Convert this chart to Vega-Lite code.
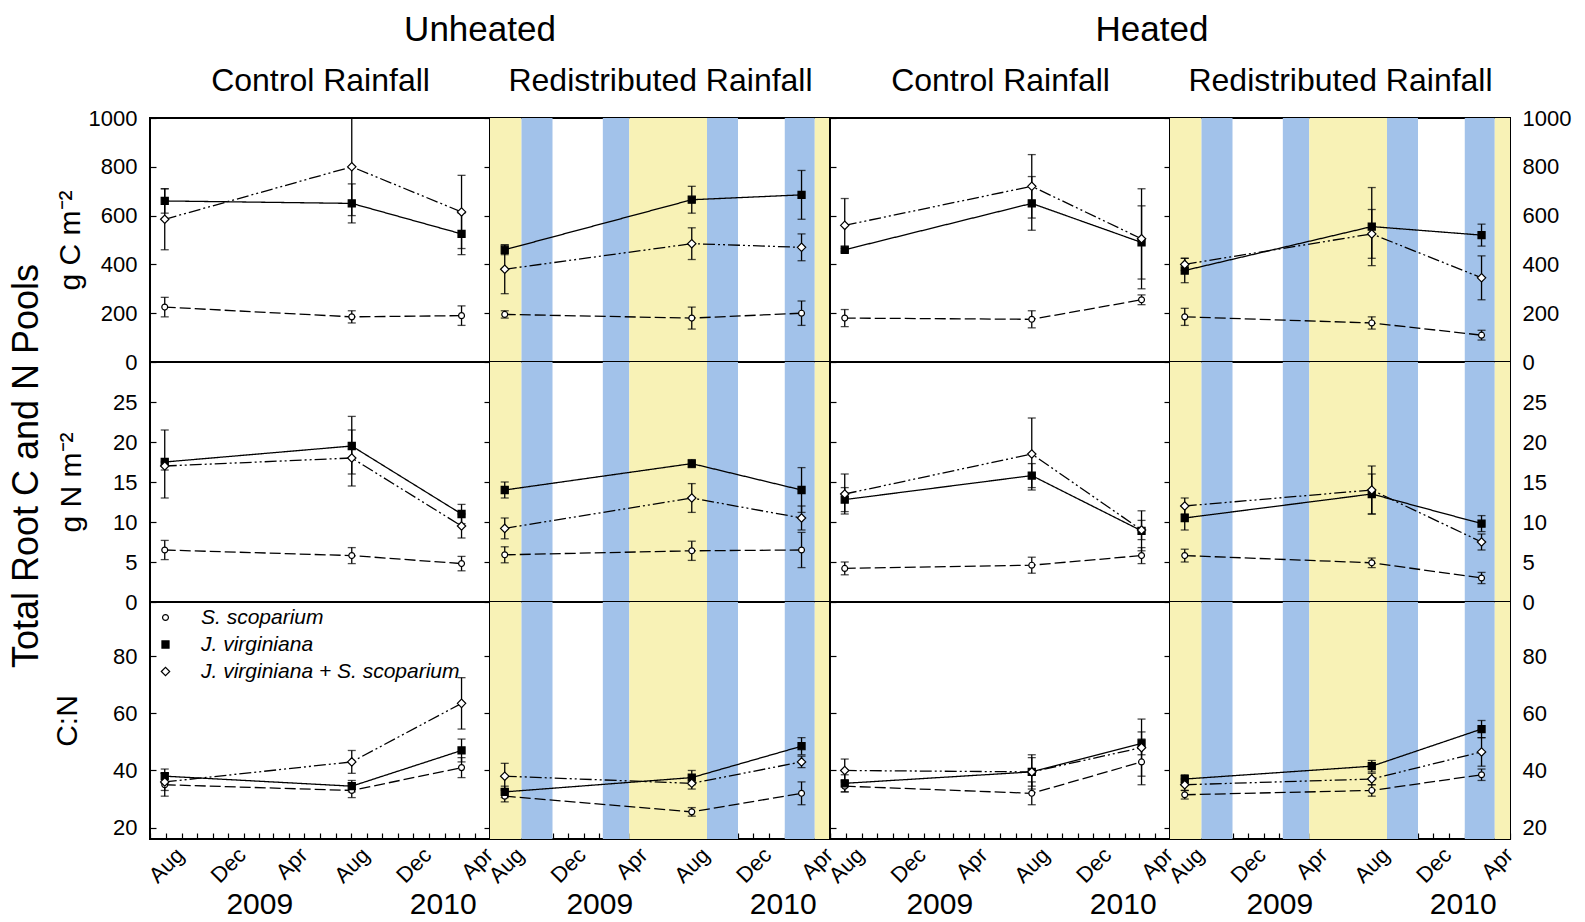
{
"$schema": "https://vega.github.io/schema/vega-lite/v6.json",
"background": "white",
"padding": {"left": 8, "top": 12, "right": 5, "bottom": 2},
"datasets": {
"roots": [
{"pool":"C","heat":"Unheated","rain":"Control","species":"S. scoparium","date":"2008-07-30","mean":225,"lo":185,"hi":265},
{"pool":"C","heat":"Unheated","rain":"Control","species":"S. scoparium","date":"2009-08-02","mean":185,"lo":160,"hi":210},
{"pool":"C","heat":"Unheated","rain":"Control","species":"S. scoparium","date":"2010-03-06","mean":190,"lo":150,"hi":230},
{"pool":"C","heat":"Unheated","rain":"Control","species":"J. virginiana","date":"2008-07-30","mean":660,"lo":610,"hi":710},
{"pool":"C","heat":"Unheated","rain":"Control","species":"J. virginiana","date":"2009-08-02","mean":650,"lo":570,"hi":730},
{"pool":"C","heat":"Unheated","rain":"Control","species":"J. virginiana","date":"2010-03-06","mean":525,"lo":440,"hi":610},
{"pool":"C","heat":"Unheated","rain":"Control","species":"J. virginiana + S. scoparium","date":"2008-07-30","mean":585,"lo":460,"hi":710},
{"pool":"C","heat":"Unheated","rain":"Control","species":"J. virginiana + S. scoparium","date":"2009-08-02","mean":800,"lo":600,"hi":1000},
{"pool":"C","heat":"Unheated","rain":"Control","species":"J. virginiana + S. scoparium","date":"2010-03-06","mean":615,"lo":465,"hi":765},
{"pool":"C","heat":"Unheated","rain":"Redistributed","species":"S. scoparium","date":"2008-07-30","mean":195,"lo":180,"hi":210},
{"pool":"C","heat":"Unheated","rain":"Redistributed","species":"S. scoparium","date":"2009-08-02","mean":180,"lo":135,"hi":225},
{"pool":"C","heat":"Unheated","rain":"Redistributed","species":"S. scoparium","date":"2010-03-06","mean":200,"lo":150,"hi":250},
{"pool":"C","heat":"Unheated","rain":"Redistributed","species":"J. virginiana","date":"2008-07-30","mean":460,"lo":440,"hi":480},
{"pool":"C","heat":"Unheated","rain":"Redistributed","species":"J. virginiana","date":"2009-08-02","mean":665,"lo":610,"hi":720},
{"pool":"C","heat":"Unheated","rain":"Redistributed","species":"J. virginiana","date":"2010-03-06","mean":685,"lo":585,"hi":785},
{"pool":"C","heat":"Unheated","rain":"Redistributed","species":"J. virginiana + S. scoparium","date":"2008-07-30","mean":380,"lo":280,"hi":480},
{"pool":"C","heat":"Unheated","rain":"Redistributed","species":"J. virginiana + S. scoparium","date":"2009-08-02","mean":485,"lo":420,"hi":550},
{"pool":"C","heat":"Unheated","rain":"Redistributed","species":"J. virginiana + S. scoparium","date":"2010-03-06","mean":470,"lo":415,"hi":525},
{"pool":"C","heat":"Heated","rain":"Control","species":"S. scoparium","date":"2008-07-30","mean":180,"lo":145,"hi":215},
{"pool":"C","heat":"Heated","rain":"Control","species":"S. scoparium","date":"2009-08-02","mean":175,"lo":140,"hi":210},
{"pool":"C","heat":"Heated","rain":"Control","species":"S. scoparium","date":"2010-03-06","mean":255,"lo":235,"hi":275},
{"pool":"C","heat":"Heated","rain":"Control","species":"J. virginiana","date":"2008-07-30","mean":460,"lo":455,"hi":465},
{"pool":"C","heat":"Heated","rain":"Control","species":"J. virginiana","date":"2009-08-02","mean":650,"lo":540,"hi":760},
{"pool":"C","heat":"Heated","rain":"Control","species":"J. virginiana","date":"2010-03-06","mean":490,"lo":340,"hi":640},
{"pool":"C","heat":"Heated","rain":"Control","species":"J. virginiana + S. scoparium","date":"2008-07-30","mean":560,"lo":450,"hi":670},
{"pool":"C","heat":"Heated","rain":"Control","species":"J. virginiana + S. scoparium","date":"2009-08-02","mean":720,"lo":590,"hi":850},
{"pool":"C","heat":"Heated","rain":"Control","species":"J. virginiana + S. scoparium","date":"2010-03-06","mean":505,"lo":300,"hi":710},
{"pool":"C","heat":"Heated","rain":"Redistributed","species":"S. scoparium","date":"2008-07-30","mean":185,"lo":150,"hi":220},
{"pool":"C","heat":"Heated","rain":"Redistributed","species":"S. scoparium","date":"2009-08-02","mean":160,"lo":135,"hi":185},
{"pool":"C","heat":"Heated","rain":"Redistributed","species":"S. scoparium","date":"2010-03-06","mean":110,"lo":90,"hi":130},
{"pool":"C","heat":"Heated","rain":"Redistributed","species":"J. virginiana","date":"2008-07-30","mean":375,"lo":325,"hi":425},
{"pool":"C","heat":"Heated","rain":"Redistributed","species":"J. virginiana","date":"2009-08-02","mean":555,"lo":395,"hi":715},
{"pool":"C","heat":"Heated","rain":"Redistributed","species":"J. virginiana","date":"2010-03-06","mean":520,"lo":475,"hi":565},
{"pool":"C","heat":"Heated","rain":"Redistributed","species":"J. virginiana + S. scoparium","date":"2008-07-30","mean":400,"lo":375,"hi":425},
{"pool":"C","heat":"Heated","rain":"Redistributed","species":"J. virginiana + S. scoparium","date":"2009-08-02","mean":525,"lo":425,"hi":625},
{"pool":"C","heat":"Heated","rain":"Redistributed","species":"J. virginiana + S. scoparium","date":"2010-03-06","mean":345,"lo":255,"hi":435},
{"pool":"N","heat":"Unheated","rain":"Control","species":"S. scoparium","date":"2008-07-30","mean":6.5,"lo":5.3,"hi":7.7},
{"pool":"N","heat":"Unheated","rain":"Control","species":"S. scoparium","date":"2009-08-02","mean":5.8,"lo":4.8,"hi":6.8},
{"pool":"N","heat":"Unheated","rain":"Control","species":"S. scoparium","date":"2010-03-06","mean":4.8,"lo":3.9,"hi":5.7},
{"pool":"N","heat":"Unheated","rain":"Control","species":"J. virginiana","date":"2008-07-30","mean":17.5,"lo":13,"hi":21.5},
{"pool":"N","heat":"Unheated","rain":"Control","species":"J. virginiana","date":"2009-08-02","mean":19.5,"lo":16,"hi":23.2},
{"pool":"N","heat":"Unheated","rain":"Control","species":"J. virginiana","date":"2010-03-06","mean":11,"lo":9.8,"hi":12.2},
{"pool":"N","heat":"Unheated","rain":"Control","species":"J. virginiana + S. scoparium","date":"2008-07-30","mean":17,"lo":16.5,"hi":17.5},
{"pool":"N","heat":"Unheated","rain":"Control","species":"J. virginiana + S. scoparium","date":"2009-08-02","mean":18,"lo":14.5,"hi":21.5},
{"pool":"N","heat":"Unheated","rain":"Control","species":"J. virginiana + S. scoparium","date":"2010-03-06","mean":9.5,"lo":8,"hi":11},
{"pool":"N","heat":"Unheated","rain":"Redistributed","species":"S. scoparium","date":"2008-07-30","mean":5.9,"lo":4.9,"hi":6.9},
{"pool":"N","heat":"Unheated","rain":"Redistributed","species":"S. scoparium","date":"2009-08-02","mean":6.4,"lo":5.2,"hi":7.6},
{"pool":"N","heat":"Unheated","rain":"Redistributed","species":"S. scoparium","date":"2010-03-06","mean":6.5,"lo":4.3,"hi":8.7},
{"pool":"N","heat":"Unheated","rain":"Redistributed","species":"J. virginiana","date":"2008-07-30","mean":14,"lo":13,"hi":15},
{"pool":"N","heat":"Unheated","rain":"Redistributed","species":"J. virginiana","date":"2009-08-02","mean":17.3,"lo":16.8,"hi":17.8},
{"pool":"N","heat":"Unheated","rain":"Redistributed","species":"J. virginiana","date":"2010-03-06","mean":14,"lo":11.2,"hi":16.8},
{"pool":"N","heat":"Unheated","rain":"Redistributed","species":"J. virginiana + S. scoparium","date":"2008-07-30","mean":9.2,"lo":7.9,"hi":10.5},
{"pool":"N","heat":"Unheated","rain":"Redistributed","species":"J. virginiana + S. scoparium","date":"2009-08-02","mean":13,"lo":11.2,"hi":14.8},
{"pool":"N","heat":"Unheated","rain":"Redistributed","species":"J. virginiana + S. scoparium","date":"2010-03-06","mean":10.5,"lo":9,"hi":12},
{"pool":"N","heat":"Heated","rain":"Control","species":"S. scoparium","date":"2008-07-30","mean":4.2,"lo":3.4,"hi":5},
{"pool":"N","heat":"Heated","rain":"Control","species":"S. scoparium","date":"2009-08-02","mean":4.6,"lo":3.6,"hi":5.6},
{"pool":"N","heat":"Heated","rain":"Control","species":"S. scoparium","date":"2010-03-06","mean":5.8,"lo":4.8,"hi":6.8},
{"pool":"N","heat":"Heated","rain":"Control","species":"J. virginiana","date":"2008-07-30","mean":12.8,"lo":11.3,"hi":14.3},
{"pool":"N","heat":"Heated","rain":"Control","species":"J. virginiana","date":"2009-08-02","mean":15.8,"lo":14.3,"hi":17.3},
{"pool":"N","heat":"Heated","rain":"Control","species":"J. virginiana","date":"2010-03-06","mean":8.9,"lo":6.4,"hi":11.4},
{"pool":"N","heat":"Heated","rain":"Control","species":"J. virginiana + S. scoparium","date":"2008-07-30","mean":13.5,"lo":11,"hi":16},
{"pool":"N","heat":"Heated","rain":"Control","species":"J. virginiana + S. scoparium","date":"2009-08-02","mean":18.5,"lo":14,"hi":23},
{"pool":"N","heat":"Heated","rain":"Control","species":"J. virginiana + S. scoparium","date":"2010-03-06","mean":9,"lo":7.8,"hi":10.2},
{"pool":"N","heat":"Heated","rain":"Redistributed","species":"S. scoparium","date":"2008-07-30","mean":5.8,"lo":5,"hi":6.6},
{"pool":"N","heat":"Heated","rain":"Redistributed","species":"S. scoparium","date":"2009-08-02","mean":4.9,"lo":4.3,"hi":5.5},
{"pool":"N","heat":"Heated","rain":"Redistributed","species":"S. scoparium","date":"2010-03-06","mean":3,"lo":2.3,"hi":3.7},
{"pool":"N","heat":"Heated","rain":"Redistributed","species":"J. virginiana","date":"2008-07-30","mean":10.5,"lo":9,"hi":12},
{"pool":"N","heat":"Heated","rain":"Redistributed","species":"J. virginiana","date":"2009-08-02","mean":13.5,"lo":11,"hi":16},
{"pool":"N","heat":"Heated","rain":"Redistributed","species":"J. virginiana","date":"2010-03-06","mean":9.8,"lo":8.8,"hi":10.8},
{"pool":"N","heat":"Heated","rain":"Redistributed","species":"J. virginiana + S. scoparium","date":"2008-07-30","mean":12,"lo":11,"hi":13},
{"pool":"N","heat":"Heated","rain":"Redistributed","species":"J. virginiana + S. scoparium","date":"2009-08-02","mean":14,"lo":11,"hi":17},
{"pool":"N","heat":"Heated","rain":"Redistributed","species":"J. virginiana + S. scoparium","date":"2010-03-06","mean":7.5,"lo":6.5,"hi":8.5},
{"pool":"CN","heat":"Unheated","rain":"Control","species":"S. scoparium","date":"2008-07-30","mean":35,"lo":31,"hi":39},
{"pool":"CN","heat":"Unheated","rain":"Control","species":"S. scoparium","date":"2009-08-02","mean":33,"lo":30.5,"hi":35.5},
{"pool":"CN","heat":"Unheated","rain":"Control","species":"S. scoparium","date":"2010-03-06","mean":41,"lo":37.5,"hi":44.5},
{"pool":"CN","heat":"Unheated","rain":"Control","species":"J. virginiana","date":"2008-07-30","mean":38,"lo":35.5,"hi":40.5},
{"pool":"CN","heat":"Unheated","rain":"Control","species":"J. virginiana","date":"2009-08-02","mean":34.5,"lo":32.5,"hi":36.5},
{"pool":"CN","heat":"Unheated","rain":"Control","species":"J. virginiana","date":"2010-03-06","mean":47,"lo":43,"hi":51},
{"pool":"CN","heat":"Unheated","rain":"Control","species":"J. virginiana + S. scoparium","date":"2008-07-30","mean":36,"lo":33,"hi":39},
{"pool":"CN","heat":"Unheated","rain":"Control","species":"J. virginiana + S. scoparium","date":"2009-08-02","mean":43,"lo":39,"hi":47},
{"pool":"CN","heat":"Unheated","rain":"Control","species":"J. virginiana + S. scoparium","date":"2010-03-06","mean":63.5,"lo":54.5,"hi":72.5},
{"pool":"CN","heat":"Unheated","rain":"Redistributed","species":"S. scoparium","date":"2008-07-30","mean":31,"lo":29,"hi":33},
{"pool":"CN","heat":"Unheated","rain":"Redistributed","species":"S. scoparium","date":"2009-08-02","mean":25.5,"lo":24,"hi":27},
{"pool":"CN","heat":"Unheated","rain":"Redistributed","species":"S. scoparium","date":"2010-03-06","mean":32,"lo":28,"hi":36},
{"pool":"CN","heat":"Unheated","rain":"Redistributed","species":"J. virginiana","date":"2008-07-30","mean":32.5,"lo":30.5,"hi":34.5},
{"pool":"CN","heat":"Unheated","rain":"Redistributed","species":"J. virginiana","date":"2009-08-02","mean":37.5,"lo":35,"hi":40},
{"pool":"CN","heat":"Unheated","rain":"Redistributed","species":"J. virginiana","date":"2010-03-06","mean":48.5,"lo":45.5,"hi":51.5},
{"pool":"CN","heat":"Unheated","rain":"Redistributed","species":"J. virginiana + S. scoparium","date":"2008-07-30","mean":38,"lo":33.5,"hi":42.5},
{"pool":"CN","heat":"Unheated","rain":"Redistributed","species":"J. virginiana + S. scoparium","date":"2009-08-02","mean":35.5,"lo":33.5,"hi":37.5},
{"pool":"CN","heat":"Unheated","rain":"Redistributed","species":"J. virginiana + S. scoparium","date":"2010-03-06","mean":43,"lo":41,"hi":45},
{"pool":"CN","heat":"Heated","rain":"Control","species":"S. scoparium","date":"2008-07-30","mean":34.5,"lo":32.5,"hi":36.5},
{"pool":"CN","heat":"Heated","rain":"Control","species":"S. scoparium","date":"2009-08-02","mean":32,"lo":28,"hi":36},
{"pool":"CN","heat":"Heated","rain":"Control","species":"S. scoparium","date":"2010-03-06","mean":43,"lo":35,"hi":51},
{"pool":"CN","heat":"Heated","rain":"Control","species":"J. virginiana","date":"2008-07-30","mean":35.5,"lo":32.5,"hi":38.5},
{"pool":"CN","heat":"Heated","rain":"Control","species":"J. virginiana","date":"2009-08-02","mean":39.5,"lo":34.5,"hi":44.5},
{"pool":"CN","heat":"Heated","rain":"Control","species":"J. virginiana","date":"2010-03-06","mean":49.5,"lo":45.5,"hi":53.5},
{"pool":"CN","heat":"Heated","rain":"Control","species":"J. virginiana + S. scoparium","date":"2008-07-30","mean":40,"lo":36,"hi":44},
{"pool":"CN","heat":"Heated","rain":"Control","species":"J. virginiana + S. scoparium","date":"2009-08-02","mean":39.5,"lo":33.5,"hi":45.5},
{"pool":"CN","heat":"Heated","rain":"Control","species":"J. virginiana + S. scoparium","date":"2010-03-06","mean":48,"lo":38,"hi":58},
{"pool":"CN","heat":"Heated","rain":"Redistributed","species":"S. scoparium","date":"2008-07-30","mean":31.5,"lo":30,"hi":33},
{"pool":"CN","heat":"Heated","rain":"Redistributed","species":"S. scoparium","date":"2009-08-02","mean":33,"lo":31,"hi":35},
{"pool":"CN","heat":"Heated","rain":"Redistributed","species":"S. scoparium","date":"2010-03-06","mean":38.5,"lo":36.5,"hi":40.5},
{"pool":"CN","heat":"Heated","rain":"Redistributed","species":"J. virginiana","date":"2008-07-30","mean":37,"lo":35.5,"hi":38.5},
{"pool":"CN","heat":"Heated","rain":"Redistributed","species":"J. virginiana","date":"2009-08-02","mean":41.5,"lo":39.5,"hi":43.5},
{"pool":"CN","heat":"Heated","rain":"Redistributed","species":"J. virginiana","date":"2010-03-06","mean":54.5,"lo":51.5,"hi":57.5},
{"pool":"CN","heat":"Heated","rain":"Redistributed","species":"J. virginiana + S. scoparium","date":"2008-07-30","mean":35,"lo":33,"hi":37},
{"pool":"CN","heat":"Heated","rain":"Redistributed","species":"J. virginiana + S. scoparium","date":"2009-08-02","mean":37,"lo":35,"hi":39},
{"pool":"CN","heat":"Heated","rain":"Redistributed","species":"J. virginiana + S. scoparium","date":"2010-03-06","mean":46.5,"lo":41.5,"hi":51.5}
],
"bands": [
{"phase":"growing","start":"2008-07-01","end":"2008-09-01"},
{"phase":"shoulder","start":"2008-09-01","end":"2008-11-01"},
{"phase":"shoulder","start":"2009-02-08","end":"2009-04-01"},
{"phase":"growing","start":"2009-04-01","end":"2009-09-01"},
{"phase":"shoulder","start":"2009-09-01","end":"2009-11-01"},
{"phase":"shoulder","start":"2010-02-01","end":"2010-04-01"},
{"phase":"growing","start":"2010-04-01","end":"2010-05-01"}
]
},
"title": {"text": "Total Root C and N Pools", "orient": "left", "fontSize": 36, "offset": 6, "anchor": "middle"},
"columns": 4,
"spacing": 0,
"bounds": "flush",
"align": "each",
"resolve": {"scale": {"shape": "independent", "fill": "independent", "size": "independent", "stroke": "independent", "strokeDash": "independent", "color": "independent"}},
"concat": [
{"width": 340, "height": 244, "data": {"name": "roots"}, "transform": [{"filter": "datum.pool === 'C' && datum.heat === 'Unheated' && datum.rain === 'Control'"}],
 "title": {"text": "Unheated", "anchor": "end", "align": "center", "frame": "group", "fontSize": 35, "offset": 16, "dx": -10},
 "layer": [
  {"mark": {"type": "errorbar", "ticks": true, "size": 8, "thickness": 1.3, "color": "black"},
   "encoding": {"x": {"field": "date", "type": "temporal", "scale": {"domain": [{"year": 2008, "month": 7, "date": 1}, {"year": 2010, "month": 5, "date": 1}]}, "axis": null},
    "y": {"field": "lo", "type": "quantitative", "scale": {"domain": [0, 1000], "nice": false}, "axis": {"orient": "left", "offset": -6, "values": [0, 200, 400, 600, 800, 1000], "format": "d", "title": "g C m⁻²", "titleFontSize": 30, "titlePadding": 3, "labelPadding": 13}},
    "y2": {"field": "hi"}}},
  {"mark": {"type": "line", "color": "black", "strokeWidth": 1.3},
   "encoding": {"x": {"field": "date", "type": "temporal", "scale": {"domain": [{"year": 2008, "month": 7, "date": 1}, {"year": 2010, "month": 5, "date": 1}]}, "axis": {"orient": "top", "offset": 0, "ticks": false, "labels": false, "title": "Control Rainfall", "titleFontSize": 32, "titlePadding": 21}},
    "y": {"field": "mean", "type": "quantitative", "scale": {"domain": [0, 1000], "nice": false}, "axis": {"orient": "right", "offset": -6, "values": [0, 200, 400, 600, 800, 1000], "labels": false, "title": null}},
    "strokeDash": {"field": "species", "type": "nominal", "scale": {"domain": ["S. scoparium", "J. virginiana", "J. virginiana + S. scoparium"], "range": [[11, 4], [1, 0], [12, 3, 2, 3, 2, 3]]}, "legend": null}}},
  {"mark": {"type": "point", "filled": true, "stroke": "black", "strokeWidth": 1.2, "opacity": 1},
   "encoding": {"x": {"field": "date", "type": "temporal", "scale": {"domain": [{"year": 2008, "month": 7, "date": 1}, {"year": 2010, "month": 5, "date": 1}]}, "axis": null},
    "y": {"field": "mean", "type": "quantitative", "scale": {"domain": [0, 1000], "nice": false}, "axis": null},
    "shape": {"field": "species", "type": "nominal", "scale": {"domain": ["S. scoparium", "J. virginiana", "J. virginiana + S. scoparium"], "range": ["circle", "square", "diamond"]}, "legend": null},
    "fill": {"field": "species", "type": "nominal", "scale": {"domain": ["S. scoparium", "J. virginiana", "J. virginiana + S. scoparium"], "range": ["white", "black", "white"]}, "legend": null},
    "size": {"field": "species", "type": "nominal", "scale": {"type": "ordinal", "domain": ["S. scoparium", "J. virginiana", "J. virginiana + S. scoparium"], "range": [35, 50, 70]}, "legend": null}}}
 ],
 "resolve": {"axis": {"x": "independent", "y": "independent"}}},
{"width": 340, "height": 244,
 "layer": [
  {"data": {"name": "bands"}, "mark": {"type": "rect", "clip": true}, "encoding": {"x": {"field": "start", "type": "temporal", "scale": {"domain": [{"year": 2008, "month": 7, "date": 1}, {"year": 2010, "month": 5, "date": 1}]}, "axis": null}, "x2": {"field": "end"}, "color": {"field": "phase", "type": "nominal", "scale": {"domain": ["growing", "shoulder"], "range": ["#F8F2B6", "#A2C2EA"]}, "legend": null}}},
  {"data": {"name": "roots"}, "transform": [{"filter": "datum.pool === 'C' && datum.heat === 'Unheated' && datum.rain === 'Redistributed'"}],
   "layer": [
    {"mark": {"type": "errorbar", "ticks": true, "size": 8, "thickness": 1.3, "color": "black"},
     "encoding": {"x": {"field": "date", "type": "temporal", "scale": {"domain": [{"year": 2008, "month": 7, "date": 1}, {"year": 2010, "month": 5, "date": 1}]}, "axis": null},
      "y": {"field": "lo", "type": "quantitative", "scale": {"domain": [0, 1000], "nice": false}, "axis": {"orient": "left", "offset": -6, "values": [0, 200, 400, 600, 800, 1000], "labels": false, "title": null}},
      "y2": {"field": "hi"}}},
    {"mark": {"type": "line", "color": "black", "strokeWidth": 1.3},
     "encoding": {"x": {"field": "date", "type": "temporal", "scale": {"domain": [{"year": 2008, "month": 7, "date": 1}, {"year": 2010, "month": 5, "date": 1}]}, "axis": {"orient": "top", "offset": 0, "ticks": false, "labels": false, "title": "Redistributed Rainfall", "titleFontSize": 32, "titlePadding": 21}},
      "y": {"field": "mean", "type": "quantitative", "scale": {"domain": [0, 1000], "nice": false}, "axis": {"orient": "right", "offset": -6, "values": [0, 200, 400, 600, 800, 1000], "labels": false, "title": null}},
      "strokeDash": {"field": "species", "type": "nominal", "scale": {"domain": ["S. scoparium", "J. virginiana", "J. virginiana + S. scoparium"], "range": [[11, 4], [1, 0], [12, 3, 2, 3, 2, 3]]}, "legend": null}}},
    {"mark": {"type": "point", "filled": true, "stroke": "black", "strokeWidth": 1.2, "opacity": 1},
     "encoding": {"x": {"field": "date", "type": "temporal", "scale": {"domain": [{"year": 2008, "month": 7, "date": 1}, {"year": 2010, "month": 5, "date": 1}]}, "axis": null},
      "y": {"field": "mean", "type": "quantitative", "scale": {"domain": [0, 1000], "nice": false}, "axis": null},
      "shape": {"field": "species", "type": "nominal", "scale": {"domain": ["S. scoparium", "J. virginiana", "J. virginiana + S. scoparium"], "range": ["circle", "square", "diamond"]}, "legend": null},
      "fill": {"field": "species", "type": "nominal", "scale": {"domain": ["S. scoparium", "J. virginiana", "J. virginiana + S. scoparium"], "range": ["white", "black", "white"]}, "legend": null},
      "size": {"field": "species", "type": "nominal", "scale": {"type": "ordinal", "domain": ["S. scoparium", "J. virginiana", "J. virginiana + S. scoparium"], "range": [35, 50, 70]}, "legend": null}}}
   ],
   "resolve": {"axis": {"x": "independent", "y": "independent"}}}
 ],
 "resolve": {"axis": {"x": "independent", "y": "independent"}}},
{"width": 340, "height": 244, "data": {"name": "roots"}, "transform": [{"filter": "datum.pool === 'C' && datum.heat === 'Heated' && datum.rain === 'Control'"}],
 "title": {"text": "Heated", "anchor": "end", "align": "center", "frame": "group", "fontSize": 35, "offset": 16, "dx": -18},
 "layer": [
  {"mark": {"type": "errorbar", "ticks": true, "size": 8, "thickness": 1.3, "color": "black"},
   "encoding": {"x": {"field": "date", "type": "temporal", "scale": {"domain": [{"year": 2008, "month": 7, "date": 1}, {"year": 2010, "month": 5, "date": 1}]}, "axis": null},
    "y": {"field": "lo", "type": "quantitative", "scale": {"domain": [0, 1000], "nice": false}, "axis": {"orient": "left", "offset": -6, "values": [0, 200, 400, 600, 800, 1000], "labels": false, "title": null}},
    "y2": {"field": "hi"}}},
  {"mark": {"type": "line", "color": "black", "strokeWidth": 1.3},
   "encoding": {"x": {"field": "date", "type": "temporal", "scale": {"domain": [{"year": 2008, "month": 7, "date": 1}, {"year": 2010, "month": 5, "date": 1}]}, "axis": {"orient": "top", "offset": 0, "ticks": false, "labels": false, "title": "Control Rainfall", "titleFontSize": 32, "titlePadding": 21}},
    "y": {"field": "mean", "type": "quantitative", "scale": {"domain": [0, 1000], "nice": false}, "axis": {"orient": "right", "offset": -6, "values": [0, 200, 400, 600, 800, 1000], "labels": false, "title": null}},
    "strokeDash": {"field": "species", "type": "nominal", "scale": {"domain": ["S. scoparium", "J. virginiana", "J. virginiana + S. scoparium"], "range": [[11, 4], [1, 0], [12, 3, 2, 3, 2, 3]]}, "legend": null}}},
  {"mark": {"type": "point", "filled": true, "stroke": "black", "strokeWidth": 1.2, "opacity": 1},
   "encoding": {"x": {"field": "date", "type": "temporal", "scale": {"domain": [{"year": 2008, "month": 7, "date": 1}, {"year": 2010, "month": 5, "date": 1}]}, "axis": null},
    "y": {"field": "mean", "type": "quantitative", "scale": {"domain": [0, 1000], "nice": false}, "axis": null},
    "shape": {"field": "species", "type": "nominal", "scale": {"domain": ["S. scoparium", "J. virginiana", "J. virginiana + S. scoparium"], "range": ["circle", "square", "diamond"]}, "legend": null},
    "fill": {"field": "species", "type": "nominal", "scale": {"domain": ["S. scoparium", "J. virginiana", "J. virginiana + S. scoparium"], "range": ["white", "black", "white"]}, "legend": null},
    "size": {"field": "species", "type": "nominal", "scale": {"type": "ordinal", "domain": ["S. scoparium", "J. virginiana", "J. virginiana + S. scoparium"], "range": [35, 50, 70]}, "legend": null}}}
 ],
 "resolve": {"axis": {"x": "independent", "y": "independent"}}},
{"width": 340, "height": 244,
 "layer": [
  {"data": {"name": "bands"}, "mark": {"type": "rect", "clip": true}, "encoding": {"x": {"field": "start", "type": "temporal", "scale": {"domain": [{"year": 2008, "month": 7, "date": 1}, {"year": 2010, "month": 5, "date": 1}]}, "axis": null}, "x2": {"field": "end"}, "color": {"field": "phase", "type": "nominal", "scale": {"domain": ["growing", "shoulder"], "range": ["#F8F2B6", "#A2C2EA"]}, "legend": null}}},
  {"data": {"name": "roots"}, "transform": [{"filter": "datum.pool === 'C' && datum.heat === 'Heated' && datum.rain === 'Redistributed'"}],
   "layer": [
    {"mark": {"type": "errorbar", "ticks": true, "size": 8, "thickness": 1.3, "color": "black"},
     "encoding": {"x": {"field": "date", "type": "temporal", "scale": {"domain": [{"year": 2008, "month": 7, "date": 1}, {"year": 2010, "month": 5, "date": 1}]}, "axis": null},
      "y": {"field": "lo", "type": "quantitative", "scale": {"domain": [0, 1000], "nice": false}, "axis": {"orient": "left", "offset": -6, "values": [0, 200, 400, 600, 800, 1000], "labels": false, "title": null}},
      "y2": {"field": "hi"}}},
    {"mark": {"type": "line", "color": "black", "strokeWidth": 1.3},
     "encoding": {"x": {"field": "date", "type": "temporal", "scale": {"domain": [{"year": 2008, "month": 7, "date": 1}, {"year": 2010, "month": 5, "date": 1}]}, "axis": {"orient": "top", "offset": 0, "ticks": false, "labels": false, "title": "Redistributed Rainfall", "titleFontSize": 32, "titlePadding": 21}},
      "y": {"field": "mean", "type": "quantitative", "scale": {"domain": [0, 1000], "nice": false}, "axis": {"orient": "right", "offset": -6, "values": [0, 200, 400, 600, 800, 1000], "format": "d", "labelPadding": 12, "title": null}},
      "strokeDash": {"field": "species", "type": "nominal", "scale": {"domain": ["S. scoparium", "J. virginiana", "J. virginiana + S. scoparium"], "range": [[11, 4], [1, 0], [12, 3, 2, 3, 2, 3]]}, "legend": null}}},
    {"mark": {"type": "point", "filled": true, "stroke": "black", "strokeWidth": 1.2, "opacity": 1},
     "encoding": {"x": {"field": "date", "type": "temporal", "scale": {"domain": [{"year": 2008, "month": 7, "date": 1}, {"year": 2010, "month": 5, "date": 1}]}, "axis": null},
      "y": {"field": "mean", "type": "quantitative", "scale": {"domain": [0, 1000], "nice": false}, "axis": null},
      "shape": {"field": "species", "type": "nominal", "scale": {"domain": ["S. scoparium", "J. virginiana", "J. virginiana + S. scoparium"], "range": ["circle", "square", "diamond"]}, "legend": null},
      "fill": {"field": "species", "type": "nominal", "scale": {"domain": ["S. scoparium", "J. virginiana", "J. virginiana + S. scoparium"], "range": ["white", "black", "white"]}, "legend": null},
      "size": {"field": "species", "type": "nominal", "scale": {"type": "ordinal", "domain": ["S. scoparium", "J. virginiana", "J. virginiana + S. scoparium"], "range": [35, 50, 70]}, "legend": null}}}
   ],
   "resolve": {"axis": {"x": "independent", "y": "independent"}}}
 ],
 "resolve": {"axis": {"x": "independent", "y": "independent"}}},
{"width": 340, "height": 240, "data": {"name": "roots"}, "transform": [{"filter": "datum.pool === 'N' && datum.heat === 'Unheated' && datum.rain === 'Control'"}],
 "layer": [
  {"mark": {"type": "errorbar", "ticks": true, "size": 8, "thickness": 1.3, "color": "black"},
   "encoding": {"x": {"field": "date", "type": "temporal", "scale": {"domain": [{"year": 2008, "month": 7, "date": 1}, {"year": 2010, "month": 5, "date": 1}]}, "axis": null},
    "y": {"field": "lo", "type": "quantitative", "scale": {"domain": [0, 30], "nice": false}, "axis": {"orient": "left", "offset": -6, "values": [0, 5, 10, 15, 20, 25], "title": "g N m⁻²", "titleFontSize": 30, "titlePadding": 26, "labelPadding": 13}},
    "y2": {"field": "hi"}}},
  {"mark": {"type": "line", "color": "black", "strokeWidth": 1.3},
   "encoding": {"x": {"field": "date", "type": "temporal", "scale": {"domain": [{"year": 2008, "month": 7, "date": 1}, {"year": 2010, "month": 5, "date": 1}]}, "axis": null},
    "y": {"field": "mean", "type": "quantitative", "scale": {"domain": [0, 30], "nice": false}, "axis": {"orient": "right", "offset": -6, "values": [0, 5, 10, 15, 20, 25], "labels": false, "title": null}},
    "strokeDash": {"field": "species", "type": "nominal", "scale": {"domain": ["S. scoparium", "J. virginiana", "J. virginiana + S. scoparium"], "range": [[11, 4], [1, 0], [12, 3, 2, 3, 2, 3]]}, "legend": null}}},
  {"mark": {"type": "point", "filled": true, "stroke": "black", "strokeWidth": 1.2, "opacity": 1},
   "encoding": {"x": {"field": "date", "type": "temporal", "scale": {"domain": [{"year": 2008, "month": 7, "date": 1}, {"year": 2010, "month": 5, "date": 1}]}, "axis": null},
    "y": {"field": "mean", "type": "quantitative", "scale": {"domain": [0, 30], "nice": false}, "axis": null},
    "shape": {"field": "species", "type": "nominal", "scale": {"domain": ["S. scoparium", "J. virginiana", "J. virginiana + S. scoparium"], "range": ["circle", "square", "diamond"]}, "legend": null},
    "fill": {"field": "species", "type": "nominal", "scale": {"domain": ["S. scoparium", "J. virginiana", "J. virginiana + S. scoparium"], "range": ["white", "black", "white"]}, "legend": null},
    "size": {"field": "species", "type": "nominal", "scale": {"type": "ordinal", "domain": ["S. scoparium", "J. virginiana", "J. virginiana + S. scoparium"], "range": [35, 50, 70]}, "legend": null}}}
 ],
 "resolve": {"axis": {"x": "independent", "y": "independent"}}},
{"width": 340, "height": 240,
 "layer": [
  {"data": {"name": "bands"}, "mark": {"type": "rect", "clip": true}, "encoding": {"x": {"field": "start", "type": "temporal", "scale": {"domain": [{"year": 2008, "month": 7, "date": 1}, {"year": 2010, "month": 5, "date": 1}]}, "axis": null}, "x2": {"field": "end"}, "color": {"field": "phase", "type": "nominal", "scale": {"domain": ["growing", "shoulder"], "range": ["#F8F2B6", "#A2C2EA"]}, "legend": null}}},
  {"data": {"name": "roots"}, "transform": [{"filter": "datum.pool === 'N' && datum.heat === 'Unheated' && datum.rain === 'Redistributed'"}],
   "layer": [
    {"mark": {"type": "errorbar", "ticks": true, "size": 8, "thickness": 1.3, "color": "black"},
     "encoding": {"x": {"field": "date", "type": "temporal", "scale": {"domain": [{"year": 2008, "month": 7, "date": 1}, {"year": 2010, "month": 5, "date": 1}]}, "axis": null},
      "y": {"field": "lo", "type": "quantitative", "scale": {"domain": [0, 30], "nice": false}, "axis": {"orient": "left", "offset": -6, "values": [0, 5, 10, 15, 20, 25], "labels": false, "title": null}},
      "y2": {"field": "hi"}}},
    {"mark": {"type": "line", "color": "black", "strokeWidth": 1.3},
     "encoding": {"x": {"field": "date", "type": "temporal", "scale": {"domain": [{"year": 2008, "month": 7, "date": 1}, {"year": 2010, "month": 5, "date": 1}]}, "axis": null},
      "y": {"field": "mean", "type": "quantitative", "scale": {"domain": [0, 30], "nice": false}, "axis": {"orient": "right", "offset": -6, "values": [0, 5, 10, 15, 20, 25], "labels": false, "title": null}},
      "strokeDash": {"field": "species", "type": "nominal", "scale": {"domain": ["S. scoparium", "J. virginiana", "J. virginiana + S. scoparium"], "range": [[11, 4], [1, 0], [12, 3, 2, 3, 2, 3]]}, "legend": null}}},
    {"mark": {"type": "point", "filled": true, "stroke": "black", "strokeWidth": 1.2, "opacity": 1},
     "encoding": {"x": {"field": "date", "type": "temporal", "scale": {"domain": [{"year": 2008, "month": 7, "date": 1}, {"year": 2010, "month": 5, "date": 1}]}, "axis": null},
      "y": {"field": "mean", "type": "quantitative", "scale": {"domain": [0, 30], "nice": false}, "axis": null},
      "shape": {"field": "species", "type": "nominal", "scale": {"domain": ["S. scoparium", "J. virginiana", "J. virginiana + S. scoparium"], "range": ["circle", "square", "diamond"]}, "legend": null},
      "fill": {"field": "species", "type": "nominal", "scale": {"domain": ["S. scoparium", "J. virginiana", "J. virginiana + S. scoparium"], "range": ["white", "black", "white"]}, "legend": null},
      "size": {"field": "species", "type": "nominal", "scale": {"type": "ordinal", "domain": ["S. scoparium", "J. virginiana", "J. virginiana + S. scoparium"], "range": [35, 50, 70]}, "legend": null}}}
   ],
   "resolve": {"axis": {"x": "independent", "y": "independent"}}}
 ],
 "resolve": {"axis": {"x": "independent", "y": "independent"}}},
{"width": 340, "height": 240, "data": {"name": "roots"}, "transform": [{"filter": "datum.pool === 'N' && datum.heat === 'Heated' && datum.rain === 'Control'"}],
 "layer": [
  {"mark": {"type": "errorbar", "ticks": true, "size": 8, "thickness": 1.3, "color": "black"},
   "encoding": {"x": {"field": "date", "type": "temporal", "scale": {"domain": [{"year": 2008, "month": 7, "date": 1}, {"year": 2010, "month": 5, "date": 1}]}, "axis": null},
    "y": {"field": "lo", "type": "quantitative", "scale": {"domain": [0, 30], "nice": false}, "axis": {"orient": "left", "offset": -6, "values": [0, 5, 10, 15, 20, 25], "labels": false, "title": null}},
    "y2": {"field": "hi"}}},
  {"mark": {"type": "line", "color": "black", "strokeWidth": 1.3},
   "encoding": {"x": {"field": "date", "type": "temporal", "scale": {"domain": [{"year": 2008, "month": 7, "date": 1}, {"year": 2010, "month": 5, "date": 1}]}, "axis": null},
    "y": {"field": "mean", "type": "quantitative", "scale": {"domain": [0, 30], "nice": false}, "axis": {"orient": "right", "offset": -6, "values": [0, 5, 10, 15, 20, 25], "labels": false, "title": null}},
    "strokeDash": {"field": "species", "type": "nominal", "scale": {"domain": ["S. scoparium", "J. virginiana", "J. virginiana + S. scoparium"], "range": [[11, 4], [1, 0], [12, 3, 2, 3, 2, 3]]}, "legend": null}}},
  {"mark": {"type": "point", "filled": true, "stroke": "black", "strokeWidth": 1.2, "opacity": 1},
   "encoding": {"x": {"field": "date", "type": "temporal", "scale": {"domain": [{"year": 2008, "month": 7, "date": 1}, {"year": 2010, "month": 5, "date": 1}]}, "axis": null},
    "y": {"field": "mean", "type": "quantitative", "scale": {"domain": [0, 30], "nice": false}, "axis": null},
    "shape": {"field": "species", "type": "nominal", "scale": {"domain": ["S. scoparium", "J. virginiana", "J. virginiana + S. scoparium"], "range": ["circle", "square", "diamond"]}, "legend": null},
    "fill": {"field": "species", "type": "nominal", "scale": {"domain": ["S. scoparium", "J. virginiana", "J. virginiana + S. scoparium"], "range": ["white", "black", "white"]}, "legend": null},
    "size": {"field": "species", "type": "nominal", "scale": {"type": "ordinal", "domain": ["S. scoparium", "J. virginiana", "J. virginiana + S. scoparium"], "range": [35, 50, 70]}, "legend": null}}}
 ],
 "resolve": {"axis": {"x": "independent", "y": "independent"}}},
{"width": 340, "height": 240,
 "layer": [
  {"data": {"name": "bands"}, "mark": {"type": "rect", "clip": true}, "encoding": {"x": {"field": "start", "type": "temporal", "scale": {"domain": [{"year": 2008, "month": 7, "date": 1}, {"year": 2010, "month": 5, "date": 1}]}, "axis": null}, "x2": {"field": "end"}, "color": {"field": "phase", "type": "nominal", "scale": {"domain": ["growing", "shoulder"], "range": ["#F8F2B6", "#A2C2EA"]}, "legend": null}}},
  {"data": {"name": "roots"}, "transform": [{"filter": "datum.pool === 'N' && datum.heat === 'Heated' && datum.rain === 'Redistributed'"}],
   "layer": [
    {"mark": {"type": "errorbar", "ticks": true, "size": 8, "thickness": 1.3, "color": "black"},
     "encoding": {"x": {"field": "date", "type": "temporal", "scale": {"domain": [{"year": 2008, "month": 7, "date": 1}, {"year": 2010, "month": 5, "date": 1}]}, "axis": null},
      "y": {"field": "lo", "type": "quantitative", "scale": {"domain": [0, 30], "nice": false}, "axis": {"orient": "left", "offset": -6, "values": [0, 5, 10, 15, 20, 25], "labels": false, "title": null}},
      "y2": {"field": "hi"}}},
    {"mark": {"type": "line", "color": "black", "strokeWidth": 1.3},
     "encoding": {"x": {"field": "date", "type": "temporal", "scale": {"domain": [{"year": 2008, "month": 7, "date": 1}, {"year": 2010, "month": 5, "date": 1}]}, "axis": null},
      "y": {"field": "mean", "type": "quantitative", "scale": {"domain": [0, 30], "nice": false}, "axis": {"orient": "right", "offset": -6, "values": [0, 5, 10, 15, 20, 25], "labelPadding": 12, "title": null}},
      "strokeDash": {"field": "species", "type": "nominal", "scale": {"domain": ["S. scoparium", "J. virginiana", "J. virginiana + S. scoparium"], "range": [[11, 4], [1, 0], [12, 3, 2, 3, 2, 3]]}, "legend": null}}},
    {"mark": {"type": "point", "filled": true, "stroke": "black", "strokeWidth": 1.2, "opacity": 1},
     "encoding": {"x": {"field": "date", "type": "temporal", "scale": {"domain": [{"year": 2008, "month": 7, "date": 1}, {"year": 2010, "month": 5, "date": 1}]}, "axis": null},
      "y": {"field": "mean", "type": "quantitative", "scale": {"domain": [0, 30], "nice": false}, "axis": null},
      "shape": {"field": "species", "type": "nominal", "scale": {"domain": ["S. scoparium", "J. virginiana", "J. virginiana + S. scoparium"], "range": ["circle", "square", "diamond"]}, "legend": null},
      "fill": {"field": "species", "type": "nominal", "scale": {"domain": ["S. scoparium", "J. virginiana", "J. virginiana + S. scoparium"], "range": ["white", "black", "white"]}, "legend": null},
      "size": {"field": "species", "type": "nominal", "scale": {"type": "ordinal", "domain": ["S. scoparium", "J. virginiana", "J. virginiana + S. scoparium"], "range": [35, 50, 70]}, "legend": null}}}
   ],
   "resolve": {"axis": {"x": "independent", "y": "independent"}}}
 ],
 "resolve": {"axis": {"x": "independent", "y": "independent"}}},
{"width": 340, "height": 237, "data": {"name": "roots"}, "transform": [{"filter": "datum.pool === 'CN' && datum.heat === 'Unheated' && datum.rain === 'Control'"}],
 "layer": [
  {"mark": {"type": "errorbar", "ticks": true, "size": 8, "thickness": 1.3, "color": "black"},
   "encoding": {"x": {"field": "date", "type": "temporal", "scale": {"domain": [{"year": 2008, "month": 7, "date": 1}, {"year": 2010, "month": 5, "date": 1}]}, "axis": {"orient": "bottom", "offset": -6, "tickCount": {"interval": "month", "step": 1}, "labels": false, "title": null}},
    "y": {"field": "lo", "type": "quantitative", "scale": {"domain": [16, 99], "nice": false, "zero": false}, "axis": {"orient": "left", "offset": -6, "values": [20, 40, 60, 80], "title": "C:N", "titleFontSize": 30, "titlePadding": 30, "labelPadding": 13}},
    "y2": {"field": "hi"}}},
  {"mark": {"type": "line", "color": "black", "strokeWidth": 1.3},
   "encoding": {"x": {"field": "date", "type": "temporal", "scale": {"domain": [{"year": 2008, "month": 7, "date": 1}, {"year": 2010, "month": 5, "date": 1}]}, "axis": {"orient": "bottom", "offset": 0, "values": [{"year": 2009, "month": 2, "date": 1}, {"year": 2010, "month": 1, "date": 28}], "format": "%Y", "ticks": false, "labelPadding": 50, "labelFontSize": 30, "labelAngle": 0, "labelOverlap": false, "labelFlush": false, "labelBound": false, "title": null}},
    "y": {"field": "mean", "type": "quantitative", "scale": {"domain": [16, 99], "nice": false, "zero": false}, "axis": {"orient": "right", "offset": -6, "values": [20, 40, 60, 80], "labels": false, "title": null}},
    "strokeDash": {"field": "species", "type": "nominal", "scale": {"domain": ["J. virginiana", "S. scoparium", "J. virginiana + S. scoparium"], "range": [[1, 0], [11, 4], [12, 3, 2, 3, 2, 3]]}, "legend": null}}},
  {"mark": {"type": "point", "filled": true, "strokeWidth": 1.2, "opacity": 1},
   "encoding": {"x": {"field": "date", "type": "temporal", "scale": {"domain": [{"year": 2008, "month": 7, "date": 1}, {"year": 2010, "month": 5, "date": 1}]}, "axis": {"orient": "bottom", "offset": 0, "values": [{"year": 2008, "month": 8, "date": 15}, {"year": 2008, "month": 12, "date": 15}, {"year": 2009, "month": 4, "date": 15}, {"year": 2009, "month": 8, "date": 15}, {"year": 2009, "month": 12, "date": 15}, {"year": 2010, "month": 4, "date": 15}], "format": "%b", "ticks": false, "labelAngle": -45, "labelFontSize": 22, "labelPadding": 5, "labelOverlap": false, "labelFlush": false, "labelBound": false, "title": null}},
    "y": {"field": "mean", "type": "quantitative", "scale": {"domain": [16, 99], "nice": false, "zero": false}, "axis": null},
    "shape": {"field": "species", "type": "nominal", "scale": {"domain": ["S. scoparium", "J. virginiana", "J. virginiana + S. scoparium"], "range": ["circle", "square", "diamond"]}, "legend": {"orient": "top-left", "offset": 5, "padding": 0, "title": null, "labelFontSize": 21, "labelFontStyle": "italic", "labelOffset": 25, "labelLimit": 500, "rowPadding": 5, "symbolStrokeWidth": 1.2}},
    "fill": {"field": "species", "type": "nominal", "scale": {"domain": ["S. scoparium", "J. virginiana", "J. virginiana + S. scoparium"], "range": ["white", "black", "white"]}, "legend": {"orient": "top-left", "offset": 5, "padding": 0, "title": null, "labelFontSize": 21, "labelFontStyle": "italic", "labelOffset": 25, "labelLimit": 500, "rowPadding": 5, "symbolStrokeWidth": 1.2}},
    "stroke": {"field": "species", "type": "nominal", "scale": {"domain": ["S. scoparium", "J. virginiana", "J. virginiana + S. scoparium"], "range": ["black", "black", "black"]}, "legend": {"orient": "top-left", "offset": 5, "padding": 0, "title": null, "labelFontSize": 21, "labelFontStyle": "italic", "labelOffset": 25, "labelLimit": 500, "rowPadding": 5, "symbolStrokeWidth": 1.2}},
    "size": {"field": "species", "type": "nominal", "scale": {"type": "ordinal", "domain": ["S. scoparium", "J. virginiana", "J. virginiana + S. scoparium"], "range": [35, 50, 70]}, "legend": {"orient": "top-left", "offset": 5, "padding": 0, "title": null, "labelFontSize": 21, "labelFontStyle": "italic", "labelOffset": 25, "labelLimit": 500, "rowPadding": 5, "symbolStrokeWidth": 1.2}}}}
 ],
 "resolve": {"axis": {"x": "independent", "y": "independent"}}},
{"width": 340, "height": 237,
 "layer": [
  {"data": {"name": "bands"}, "mark": {"type": "rect", "clip": true}, "encoding": {"x": {"field": "start", "type": "temporal", "scale": {"domain": [{"year": 2008, "month": 7, "date": 1}, {"year": 2010, "month": 5, "date": 1}]}, "axis": null}, "x2": {"field": "end"}, "color": {"field": "phase", "type": "nominal", "scale": {"domain": ["growing", "shoulder"], "range": ["#F8F2B6", "#A2C2EA"]}, "legend": null}}},
  {"data": {"name": "roots"}, "transform": [{"filter": "datum.pool === 'CN' && datum.heat === 'Unheated' && datum.rain === 'Redistributed'"}],
   "layer": [
    {"mark": {"type": "errorbar", "ticks": true, "size": 8, "thickness": 1.3, "color": "black"},
     "encoding": {"x": {"field": "date", "type": "temporal", "scale": {"domain": [{"year": 2008, "month": 7, "date": 1}, {"year": 2010, "month": 5, "date": 1}]}, "axis": {"orient": "bottom", "offset": -6, "tickCount": {"interval": "month", "step": 1}, "labels": false, "title": null}},
      "y": {"field": "lo", "type": "quantitative", "scale": {"domain": [16, 99], "nice": false, "zero": false}, "axis": {"orient": "left", "offset": -6, "values": [20, 40, 60, 80], "labels": false, "title": null}},
      "y2": {"field": "hi"}}},
    {"mark": {"type": "line", "color": "black", "strokeWidth": 1.3},
     "encoding": {"x": {"field": "date", "type": "temporal", "scale": {"domain": [{"year": 2008, "month": 7, "date": 1}, {"year": 2010, "month": 5, "date": 1}]}, "axis": {"orient": "bottom", "offset": 0, "values": [{"year": 2009, "month": 2, "date": 1}, {"year": 2010, "month": 1, "date": 28}], "format": "%Y", "ticks": false, "labelPadding": 50, "labelFontSize": 30, "labelAngle": 0, "labelOverlap": false, "labelFlush": false, "labelBound": false, "title": null}},
      "y": {"field": "mean", "type": "quantitative", "scale": {"domain": [16, 99], "nice": false, "zero": false}, "axis": {"orient": "right", "offset": -6, "values": [20, 40, 60, 80], "labels": false, "title": null}},
      "strokeDash": {"field": "species", "type": "nominal", "scale": {"domain": ["S. scoparium", "J. virginiana", "J. virginiana + S. scoparium"], "range": [[11, 4], [1, 0], [12, 3, 2, 3, 2, 3]]}, "legend": null}}},
    {"mark": {"type": "point", "filled": true, "stroke": "black", "strokeWidth": 1.2, "opacity": 1},
     "encoding": {"x": {"field": "date", "type": "temporal", "scale": {"domain": [{"year": 2008, "month": 7, "date": 1}, {"year": 2010, "month": 5, "date": 1}]}, "axis": {"orient": "bottom", "offset": 0, "values": [{"year": 2008, "month": 8, "date": 15}, {"year": 2008, "month": 12, "date": 15}, {"year": 2009, "month": 4, "date": 15}, {"year": 2009, "month": 8, "date": 15}, {"year": 2009, "month": 12, "date": 15}, {"year": 2010, "month": 4, "date": 15}], "format": "%b", "ticks": false, "labelAngle": -45, "labelFontSize": 22, "labelPadding": 5, "labelOverlap": false, "labelFlush": false, "labelBound": false, "title": null}},
      "y": {"field": "mean", "type": "quantitative", "scale": {"domain": [16, 99], "nice": false, "zero": false}, "axis": null},
      "shape": {"field": "species", "type": "nominal", "scale": {"domain": ["S. scoparium", "J. virginiana", "J. virginiana + S. scoparium"], "range": ["circle", "square", "diamond"]}, "legend": null},
      "fill": {"field": "species", "type": "nominal", "scale": {"domain": ["S. scoparium", "J. virginiana", "J. virginiana + S. scoparium"], "range": ["white", "black", "white"]}, "legend": null},
      "size": {"field": "species", "type": "nominal", "scale": {"type": "ordinal", "domain": ["S. scoparium", "J. virginiana", "J. virginiana + S. scoparium"], "range": [35, 50, 70]}, "legend": null}}}
   ],
   "resolve": {"axis": {"x": "independent", "y": "independent"}}}
 ],
 "resolve": {"axis": {"x": "independent", "y": "independent"}}},
{"width": 340, "height": 237, "data": {"name": "roots"}, "transform": [{"filter": "datum.pool === 'CN' && datum.heat === 'Heated' && datum.rain === 'Control'"}],
 "layer": [
  {"mark": {"type": "errorbar", "ticks": true, "size": 8, "thickness": 1.3, "color": "black"},
   "encoding": {"x": {"field": "date", "type": "temporal", "scale": {"domain": [{"year": 2008, "month": 7, "date": 1}, {"year": 2010, "month": 5, "date": 1}]}, "axis": {"orient": "bottom", "offset": -6, "tickCount": {"interval": "month", "step": 1}, "labels": false, "title": null}},
    "y": {"field": "lo", "type": "quantitative", "scale": {"domain": [16, 99], "nice": false, "zero": false}, "axis": {"orient": "left", "offset": -6, "values": [20, 40, 60, 80], "labels": false, "title": null}},
    "y2": {"field": "hi"}}},
  {"mark": {"type": "line", "color": "black", "strokeWidth": 1.3},
   "encoding": {"x": {"field": "date", "type": "temporal", "scale": {"domain": [{"year": 2008, "month": 7, "date": 1}, {"year": 2010, "month": 5, "date": 1}]}, "axis": {"orient": "bottom", "offset": 0, "values": [{"year": 2009, "month": 2, "date": 1}, {"year": 2010, "month": 1, "date": 28}], "format": "%Y", "ticks": false, "labelPadding": 50, "labelFontSize": 30, "labelAngle": 0, "labelOverlap": false, "labelFlush": false, "labelBound": false, "title": null}},
    "y": {"field": "mean", "type": "quantitative", "scale": {"domain": [16, 99], "nice": false, "zero": false}, "axis": {"orient": "right", "offset": -6, "values": [20, 40, 60, 80], "labels": false, "title": null}},
    "strokeDash": {"field": "species", "type": "nominal", "scale": {"domain": ["S. scoparium", "J. virginiana", "J. virginiana + S. scoparium"], "range": [[11, 4], [1, 0], [12, 3, 2, 3, 2, 3]]}, "legend": null}}},
  {"mark": {"type": "point", "filled": true, "stroke": "black", "strokeWidth": 1.2, "opacity": 1},
   "encoding": {"x": {"field": "date", "type": "temporal", "scale": {"domain": [{"year": 2008, "month": 7, "date": 1}, {"year": 2010, "month": 5, "date": 1}]}, "axis": {"orient": "bottom", "offset": 0, "values": [{"year": 2008, "month": 8, "date": 15}, {"year": 2008, "month": 12, "date": 15}, {"year": 2009, "month": 4, "date": 15}, {"year": 2009, "month": 8, "date": 15}, {"year": 2009, "month": 12, "date": 15}, {"year": 2010, "month": 4, "date": 15}], "format": "%b", "ticks": false, "labelAngle": -45, "labelFontSize": 22, "labelPadding": 5, "labelOverlap": false, "labelFlush": false, "labelBound": false, "title": null}},
    "y": {"field": "mean", "type": "quantitative", "scale": {"domain": [16, 99], "nice": false, "zero": false}, "axis": null},
    "shape": {"field": "species", "type": "nominal", "scale": {"domain": ["S. scoparium", "J. virginiana", "J. virginiana + S. scoparium"], "range": ["circle", "square", "diamond"]}, "legend": null},
    "fill": {"field": "species", "type": "nominal", "scale": {"domain": ["S. scoparium", "J. virginiana", "J. virginiana + S. scoparium"], "range": ["white", "black", "white"]}, "legend": null},
    "size": {"field": "species", "type": "nominal", "scale": {"type": "ordinal", "domain": ["S. scoparium", "J. virginiana", "J. virginiana + S. scoparium"], "range": [35, 50, 70]}, "legend": null}}}
 ],
 "resolve": {"axis": {"x": "independent", "y": "independent"}}},
{"width": 340, "height": 237,
 "layer": [
  {"data": {"name": "bands"}, "mark": {"type": "rect", "clip": true}, "encoding": {"x": {"field": "start", "type": "temporal", "scale": {"domain": [{"year": 2008, "month": 7, "date": 1}, {"year": 2010, "month": 5, "date": 1}]}, "axis": null}, "x2": {"field": "end"}, "color": {"field": "phase", "type": "nominal", "scale": {"domain": ["growing", "shoulder"], "range": ["#F8F2B6", "#A2C2EA"]}, "legend": null}}},
  {"data": {"name": "roots"}, "transform": [{"filter": "datum.pool === 'CN' && datum.heat === 'Heated' && datum.rain === 'Redistributed'"}],
   "layer": [
    {"mark": {"type": "errorbar", "ticks": true, "size": 8, "thickness": 1.3, "color": "black"},
     "encoding": {"x": {"field": "date", "type": "temporal", "scale": {"domain": [{"year": 2008, "month": 7, "date": 1}, {"year": 2010, "month": 5, "date": 1}]}, "axis": {"orient": "bottom", "offset": -6, "tickCount": {"interval": "month", "step": 1}, "labels": false, "title": null}},
      "y": {"field": "lo", "type": "quantitative", "scale": {"domain": [16, 99], "nice": false, "zero": false}, "axis": {"orient": "left", "offset": -6, "values": [20, 40, 60, 80], "labels": false, "title": null}},
      "y2": {"field": "hi"}}},
    {"mark": {"type": "line", "color": "black", "strokeWidth": 1.3},
     "encoding": {"x": {"field": "date", "type": "temporal", "scale": {"domain": [{"year": 2008, "month": 7, "date": 1}, {"year": 2010, "month": 5, "date": 1}]}, "axis": {"orient": "bottom", "offset": 0, "values": [{"year": 2009, "month": 2, "date": 1}, {"year": 2010, "month": 1, "date": 28}], "format": "%Y", "ticks": false, "labelPadding": 50, "labelFontSize": 30, "labelAngle": 0, "labelOverlap": false, "labelFlush": false, "labelBound": false, "title": null}},
      "y": {"field": "mean", "type": "quantitative", "scale": {"domain": [16, 99], "nice": false, "zero": false}, "axis": {"orient": "right", "offset": -6, "values": [20, 40, 60, 80], "labelPadding": 12, "title": null}},
      "strokeDash": {"field": "species", "type": "nominal", "scale": {"domain": ["S. scoparium", "J. virginiana", "J. virginiana + S. scoparium"], "range": [[11, 4], [1, 0], [12, 3, 2, 3, 2, 3]]}, "legend": null}}},
    {"mark": {"type": "point", "filled": true, "stroke": "black", "strokeWidth": 1.2, "opacity": 1},
     "encoding": {"x": {"field": "date", "type": "temporal", "scale": {"domain": [{"year": 2008, "month": 7, "date": 1}, {"year": 2010, "month": 5, "date": 1}]}, "axis": {"orient": "bottom", "offset": 0, "values": [{"year": 2008, "month": 8, "date": 15}, {"year": 2008, "month": 12, "date": 15}, {"year": 2009, "month": 4, "date": 15}, {"year": 2009, "month": 8, "date": 15}, {"year": 2009, "month": 12, "date": 15}, {"year": 2010, "month": 4, "date": 15}], "format": "%b", "ticks": false, "labelAngle": -45, "labelFontSize": 22, "labelPadding": 5, "labelOverlap": false, "labelFlush": false, "labelBound": false, "title": null}},
      "y": {"field": "mean", "type": "quantitative", "scale": {"domain": [16, 99], "nice": false, "zero": false}, "axis": null},
      "shape": {"field": "species", "type": "nominal", "scale": {"domain": ["S. scoparium", "J. virginiana", "J. virginiana + S. scoparium"], "range": ["circle", "square", "diamond"]}, "legend": null},
      "fill": {"field": "species", "type": "nominal", "scale": {"domain": ["S. scoparium", "J. virginiana", "J. virginiana + S. scoparium"], "range": ["white", "black", "white"]}, "legend": null},
      "size": {"field": "species", "type": "nominal", "scale": {"type": "ordinal", "domain": ["S. scoparium", "J. virginiana", "J. virginiana + S. scoparium"], "range": [35, 50, 70]}, "legend": null}}}
   ],
   "resolve": {"axis": {"x": "independent", "y": "independent"}}}
 ],
 "resolve": {"axis": {"x": "independent", "y": "independent"}}}
],
"config": {
 "font": "Liberation Sans",
 "view": {"stroke": "black", "strokeWidth": 2},
 "axis": {"domain": false, "grid": false, "tickColor": "black", "tickWidth": 1.2, "tickSize": 6, "labelColor": "black", "labelFont": "Liberation Sans", "labelFontSize": 22, "titleFont": "Liberation Sans", "titleFontWeight": "normal", "titleColor": "black"},
 "legend": {"labelFont": "Liberation Sans", "labelColor": "black"},
 "title": {"font": "Liberation Sans", "fontWeight": "normal", "color": "black"}
}
}
